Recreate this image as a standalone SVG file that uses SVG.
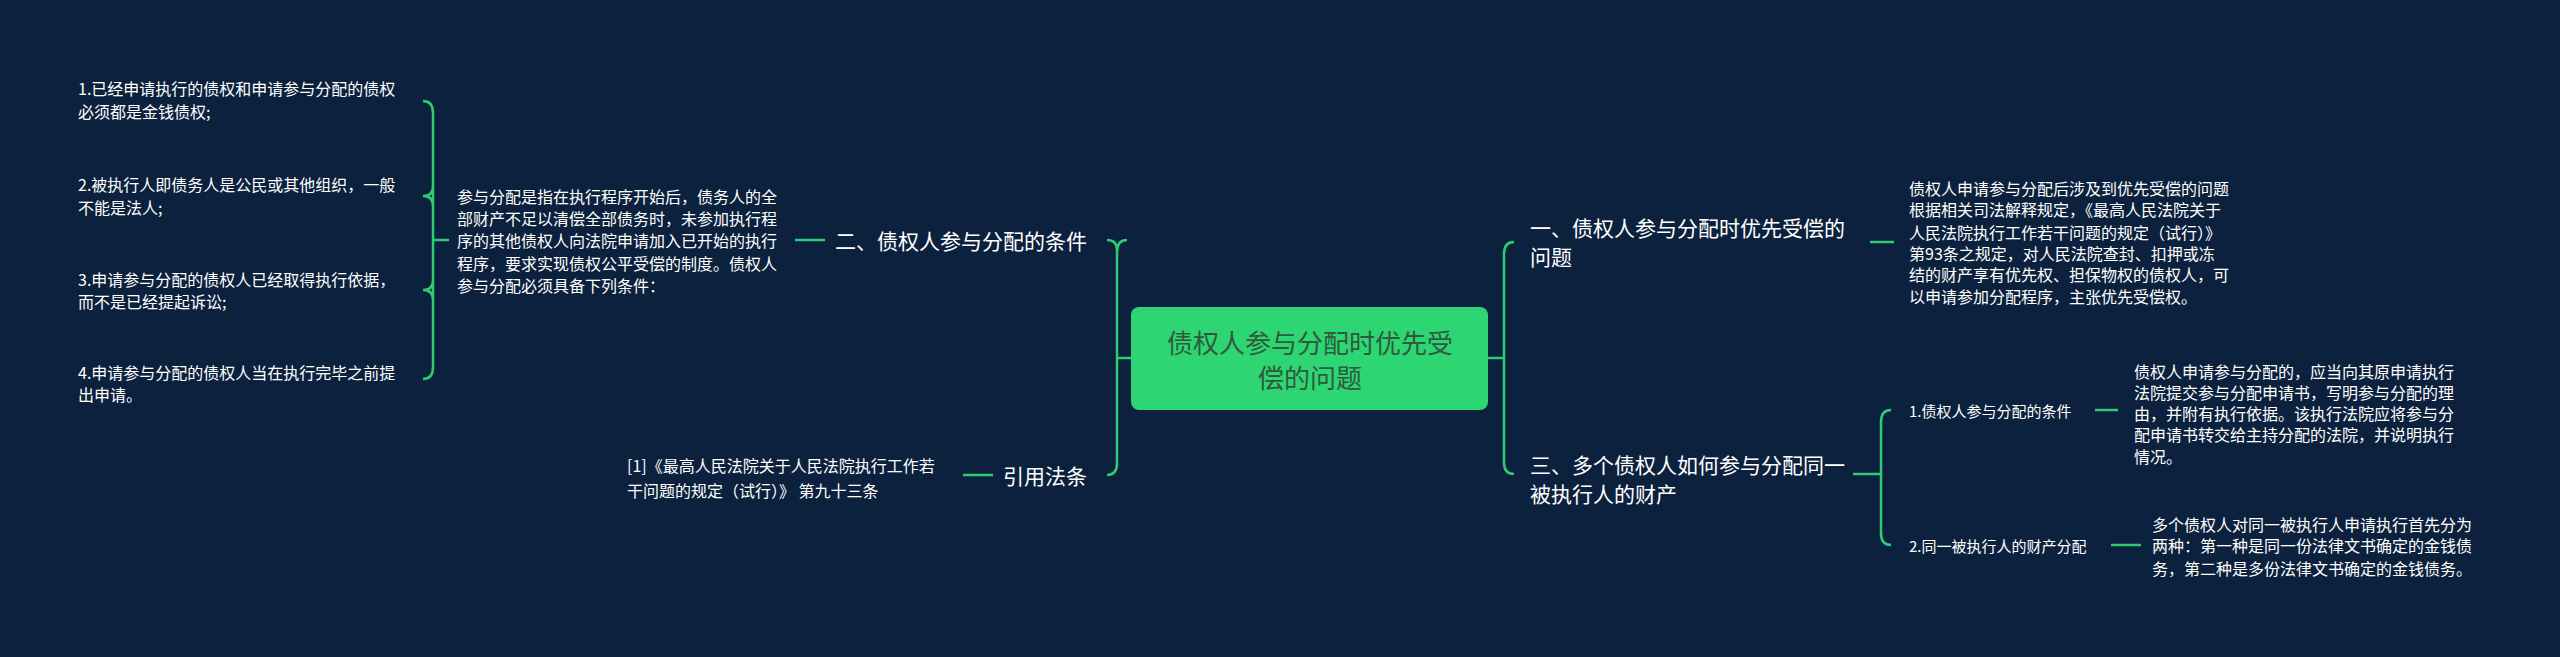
<svg xmlns="http://www.w3.org/2000/svg" width="2560" height="657" viewBox="0 0 2560 657">
<style>
.t{font-family:"Noto Sans CJK SC","Noto Sans",sans-serif;fill:#ffffff;dominant-baseline:central}
.s{font-size:16px}.m{font-size:21px}.n{font-size:15px}
.c{fill:none;stroke:#2ecc71;stroke-width:2.5}
</style>
<rect width="2560" height="657" fill="#0c213d"/>
<g id="connectors">
<path class="c" d="M1131,358 H1117 M1127,240 Q1117,240 1117,252 V463 Q1117,475 1107,475 M1107,240 Q1117,240 1117,250"/>
<path class="c" d="M1488,358 H1504 M1514,242 Q1504,242 1504,254 V462 Q1504,474 1514,474"/>
<path class="c" d="M795,240 H825"/>
<path class="c" d="M963,475 H993"/>
<path class="c" d="M449,240 H433 M423,101 Q433,101 433,113 V367 Q433,379 423,379 M423,196 Q433,196 433,206 V186 Q433,196 423,196 M423,290 Q433,290 433,300 V280 Q433,290 423,290"/>
<path class="c" d="M1870,242 H1894"/>
<path class="c" d="M1853,474 H1881 M1891,410 Q1881,410 1881,422 V533 Q1881,545 1891,545"/>
<path class="c" d="M2095,410 H2118"/>
<path class="c" d="M2111,545 H2141"/>
</g>
<g id="center">
<rect x="1131" y="307" width="357" height="103" rx="8" fill="#2ed573"/>
<text class="t" x="1310" y="341" font-size="26" text-anchor="middle" style="fill:#2f5a3e">债权人参与分配时优先受</text>
<text class="t" x="1310" y="376" font-size="26" text-anchor="middle" style="fill:#2f5a3e">偿的问题</text>
</g>
<g id="n2"><text class="t m" x="835" y="240">二、债权人参与分配的条件</text></g>
<g id="n2p"><text class="t s" x="457"><tspan x="457" y="196">参与分配是指在执行程序开始后，债务人的全</tspan><tspan x="457" y="218">部财产不足以清偿全部债务时，未参加执行程</tspan><tspan x="457" y="240">序的其他债权人向法院申请加入已开始的执行</tspan><tspan x="457" y="263">程序，要求实现债权公平受偿的制度。债权人</tspan><tspan x="457" y="285">参与分配必须具备下列条件：</tspan></text></g>
<g id="c1"><text class="t s"><tspan x="78" y="88">1.已经申请执行的债权和申请参与分配的债权</tspan><tspan x="78" y="111">必须都是金钱债权;</tspan></text></g>
<g id="c2"><text class="t s"><tspan x="78" y="184">2.被执行人即债务人是公民或其他组织，一般</tspan><tspan x="78" y="207">不能是法人;</tspan></text></g>
<g id="c3"><text class="t s"><tspan x="78" y="279">3.申请参与分配的债权人已经取得执行依据，</tspan><tspan x="78" y="301">而不是已经提起诉讼;</tspan></text></g>
<g id="c4"><text class="t s"><tspan x="78" y="372">4.申请参与分配的债权人当在执行完毕之前提</tspan><tspan x="78" y="394">出申请。</tspan></text></g>
<g id="law"><text class="t m" x="1003" y="475">引用法条</text></g>
<g id="lawp"><text class="t s"><tspan x="627" y="465">[1]《最高人民法院关于人民法院执行工作若</tspan><tspan x="627" y="490">干问题的规定（试行）》 第九十三条</tspan></text></g>
<g id="n1"><text class="t m"><tspan x="1530" y="227">一、债权人参与分配时优先受偿的</tspan><tspan x="1530" y="256">问题</tspan></text></g>
<g id="n1p"><text class="t s"><tspan x="1909" y="188">债权人申请参与分配后涉及到优先受偿的问题</tspan><tspan x="1909" y="209">根据相关司法解释规定，《最高人民法院关于</tspan><tspan x="1909" y="232">人民法院执行工作若干问题的规定（试行）》</tspan><tspan x="1909" y="253">第93条之规定，对人民法院查封、扣押或冻</tspan><tspan x="1909" y="274">结的财产享有优先权、担保物权的债权人，可</tspan><tspan x="1909" y="296">以申请参加分配程序，主张优先受偿权。</tspan></text></g>
<g id="n3"><text class="t m"><tspan x="1530" y="464">三、多个债权人如何参与分配同一</tspan><tspan x="1530" y="493">被执行人的财产</tspan></text></g>
<g id="n31"><text class="t n" x="1909" y="410">1.债权人参与分配的条件</text></g>
<g id="n31p"><text class="t s"><tspan x="2134" y="371">债权人申请参与分配的，应当向其原申请执行</tspan><tspan x="2134" y="392">法院提交参与分配申请书，写明参与分配的理</tspan><tspan x="2134" y="413">由，并附有执行依据。该执行法院应将参与分</tspan><tspan x="2134" y="434">配申请书转交给主持分配的法院，并说明执行</tspan><tspan x="2134" y="456">情况。</tspan></text></g>
<g id="n32"><text class="t n" x="1909" y="545">2.同一被执行人的财产分配</text></g>
<g id="n32p"><text class="t s"><tspan x="2152" y="524">多个债权人对同一被执行人申请执行首先分为</tspan><tspan x="2152" y="545">两种：第一种是同一份法律文书确定的金钱债</tspan><tspan x="2152" y="568">务，第二种是多份法律文书确定的金钱债务。</tspan></text></g>
</svg>
